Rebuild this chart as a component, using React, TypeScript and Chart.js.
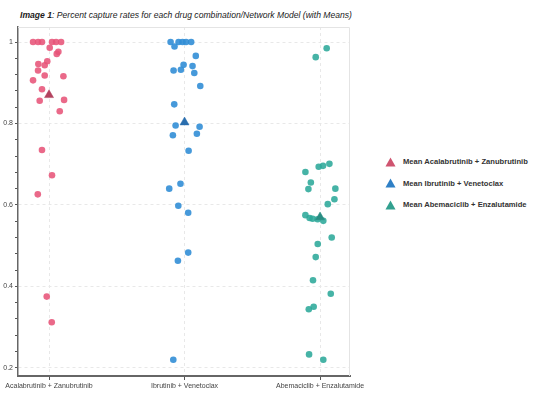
import React, { useEffect, useRef } from "react";
import { Chart, registerables } from "chart.js";

Chart.register(...registerables);

const categories = [
  "Acalabrutinib + Zanubrutinib",
  "Ibrutinib + Venetoclax",
  "Abemaciclib + Enzalutamide",
];

// capture rates per drug combination
const acalaValues = [
  1.0, 1.0, 1.0, 1.0, 1.0, 1.0, 0.986, 0.976, 0.971, 0.953, 0.946, 0.943, 0.93,
  0.918, 0.916, 0.906, 0.884, 0.856, 0.858, 0.83, 0.735, 0.673, 0.626, 0.375, 0.312,
];
const acalaJitter = [
  -0.118, -0.081, -0.052, 0.022, 0.052, 0.089, 0.005, 0.069, 0.057, -0.013, -0.079,
  -0.032, -0.081, -0.032, 0.106, -0.118, -0.052, -0.069, 0.111, 0.079, -0.052, 0.022,
  -0.083, -0.017, 0.02,
];

const ibruValues = [
  1.0, 1.0, 1.0, 1.0, 1.0, 0.989, 0.966, 0.93, 0.932, 0.944, 0.941, 0.924, 0.892,
  0.847, 0.795, 0.792, 0.771, 0.775, 0.733, 0.652, 0.64, 0.598, 0.581, 0.483, 0.463, 0.22,
];
const ibruJitter = [
  -0.103, -0.044, -0.015, 0.011, 0.049, -0.074, 0.083, -0.081, -0.027, -0.007, 0.059,
  0.072, 0.116, -0.076, -0.066, 0.111, -0.086, 0.091, 0.03, -0.03, -0.113, -0.046,
  0.027, 0.027, -0.049, -0.083,
];

const abemaValues = [
  0.985, 0.963, 0.701, 0.696, 0.694, 0.681, 0.655, 0.639, 0.64, 0.614, 0.602, 0.575,
  0.568, 0.566, 0.565, 0.561, 0.52, 0.504, 0.472, 0.415, 0.382, 0.35, 0.344, 0.233, 0.22,
];
const abemaJitter = [
  0.049, -0.032, 0.069, 0.022, -0.01, -0.108, -0.068, -0.086, 0.113, 0.106, 0.057,
  -0.108, -0.077, -0.055, -0.018, 0.024, 0.086, -0.017, -0.032, -0.052, 0.079, -0.047,
  -0.083, -0.081, 0.024,
];

const meanValues = [0.87, 0.803, 0.57];
const meanLabels = [
  "Mean Acalabrutinib + Zanubrutinib",
  "Mean Ibrutinib + Venetoclax",
  "Mean Abemaciclib + Enzalutamide",
];

const yMajorTicks = [0.2, 0.4, 0.6, 0.8, 1];
const yMinorStep = 0.04;

const pointColors = [
  "rgba(231, 84, 121, 0.88)",
  "rgba(50, 142, 214, 0.9)",
  "rgba(44, 168, 154, 0.88)",
];
const meanColors = ["#b3435f", "#2a6eae", "#2a8d83"];
const legendColors = ["#cf5470", "#2f80c6", "#32a08f"];

const FONT = "'Liberation Sans', Arial, sans-serif";

export default function App() {
  const ref = useRef<HTMLCanvasElement | null>(null);

  useEffect(() => {
    if (!ref.current) return;
    const groups = [
      { v: acalaValues, j: acalaJitter },
      { v: ibruValues, j: ibruJitter },
      { v: abemaValues, j: abemaJitter },
    ];
    const meanSets = meanValues.map((m, i) => ({
      type: "scatter" as const,
      label: meanLabels[i],
      data: [{ x: i, y: m }],
      pointStyle: "triangle",
      pointRadius: 5.2,
      backgroundColor: meanColors[i],
      borderColor: meanColors[i],
      borderWidth: 0.5,
      order: 0,
    }));
    const pointSets = groups.map((g, i) => ({
      type: "scatter" as const,
      label: categories[i],
      data: g.v.map((y, k) => ({ x: i + g.j[k], y })),
      pointStyle: "circle",
      pointRadius: 3.3,
      backgroundColor: pointColors[i],
      borderWidth: 0,
      order: 1,
    }));

    const frame = {
      id: "frame",
      beforeDatasetsDraw(chart: any) {
        const { ctx, chartArea: a } = chart;
        ctx.save();
        ctx.strokeStyle = "#e4e4e4";
        ctx.lineWidth = 1;
        ctx.beginPath();
        ctx.moveTo(a.left, a.top + 0.5);
        ctx.lineTo(a.right - 0.5, a.top + 0.5);
        ctx.lineTo(a.right - 0.5, a.bottom);
        ctx.stroke();
        ctx.restore();
      },
    };

    const isMajor = (v: number) => yMajorTicks.some((m) => Math.abs(m - v) < 1e-6);

    const chart = new Chart(ref.current, {
      type: "scatter",
      data: { datasets: [...meanSets, ...pointSets] as any },
      plugins: [frame],
      options: {
        animation: false,
        responsive: false,
        layout: { padding: { top: 27, left: 0, right: 30, bottom: 0 } },
        plugins: { legend: { display: false }, tooltip: { enabled: false } },
        scales: {
          x: {
            type: "linear",
            min: -0.229,
            max: 2.221,
            afterBuildTicks: (s: any) => {
              s.ticks = categories.map((_, i) => ({ value: i }));
            },
            afterFit: (s: any) => {
              s.height = 19;
            },
            ticks: {
              callback: (v: any) => categories[Math.round(Number(v))] ?? "",
              font: { family: FONT, size: 7 },
              color: "#444",
              padding: 2,
              maxRotation: 0,
              autoSkip: false,
            },
            grid: {
              color: "#e8e8e8",
              tickColor: "#555",
              tickLength: 4,
              lineWidth: 1,
            },
            border: { color: "#666", width: 2, dash: [3, 3] },
          },
          y: {
            type: "linear",
            min: 0.18,
            max: 1.037,
            afterBuildTicks: (s: any) => {
              const t: any[] = [];
              const lo = yMajorTicks[0];
              const hi = yMajorTicks[yMajorTicks.length - 1];
              for (let v = lo; v <= hi + 1e-6; v += yMinorStep) {
                t.push({ value: Math.round(v * 1000) / 1000 });
              }
              s.ticks = t;
            },
            afterFit: (s: any) => {
              s.width = 18;
            },
            ticks: {
              callback: (v: any) => (isMajor(Number(v)) ? String(Number(v)) : ""),
              font: { family: FONT, size: 7 },
              color: "#444",
              padding: 2,
              autoSkip: false,
            },
            grid: {
              color: (c: any) => (isMajor(c.tick?.value) ? "#e8e8e8" : "rgba(0,0,0,0)"),
              tickColor: "#555",
              tickLength: 3,
              lineWidth: 1,
            },
            border: { color: "#666", width: 1.5, dash: [3, 3] },
          },
        },
      },
    });
    return () => chart.destroy();
  }, []);

  return (
    <div
      style={{
        position: "fixed",
        left: 0,
        top: 0,
        width: 536,
        height: 395,
        background: "#fff",
        overflow: "hidden",
        fontFamily: FONT,
      }}
    >
      <div
        style={{
          position: "absolute",
          left: 20,
          top: 9,
          fontSize: 8.6,
          fontStyle: "italic",
          color: "#222",
          whiteSpace: "nowrap",
          lineHeight: "12px",
        }}
      >
        <b>Image 1</b>: Percent capture rates for each drug combination/Network Model (with Means)
      </div>
      <canvas
        ref={ref}
        width={380}
        height={395}
        style={{ position: "absolute", left: 0, top: 0, width: 380, height: 395 }}
      />
      <div style={{ position: "absolute", left: 385, top: 151, width: 151 }}>
        {meanLabels.map((l, i) => (
          <div
            key={l}
            style={{ height: 21.5, display: "flex", alignItems: "center", whiteSpace: "nowrap" }}
          >
            <svg width={11} height={10} style={{ flex: "none" }}>
              <polygon points="5.5,0.5 10.5,9.5 0.5,9.5" fill={legendColors[i]} />
            </svg>
            <span
              style={{
                marginLeft: 7,
                fontSize: 7.6,
                fontWeight: "bold",
                color: "#333",
              }}
            >
              {l}
            </span>
          </div>
        ))}
      </div>
    </div>
  );
}
